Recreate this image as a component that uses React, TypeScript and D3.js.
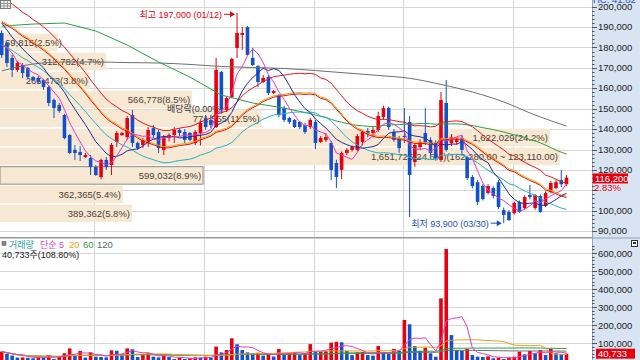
import React from "react";
import * as d3 from "d3";

// ---------- candle data (won) ----------
const OPEN = [187100,182200,174900,169000,171400,170000,165500,165100,164100,160600,
 154300,151800,146900,137100,129800,128800,126300,125800,121400,116500,
 124900,122400,133700,137100,136100,146900,133200,132200,133200,140500,
 138600,129800,135600,137100,139600,138600,138100,133200,138100,145400,
 144500,141000,168000,149400,155700,179800,186100,190000,174900,170900,
 163100,165500,157700,156700,150300,145400,144500,143500,142000,141000,
 143500,133700,134700,133200,123400,120000,128300,129800,129800,133700,
 139100,138100,139600,145900,150300,138600,135600,136600,143500,123900,
 131200,138100,134700,133200,124900,152800,133200,133700,135600,126300,
 116500,114000,112100,108700,111100,114000,100300,99400,98900,104300,
 101300,107700,101300,107200,102300,109200,111100,115000,113000];
const HIGH = [188500,182700,176300,173400,172400,170500,166000,166000,164600,161600,
 155000,152800,147500,137500,132200,131700,128300,127300,122400,125500,
 126300,133200,139100,138600,146400,149400,134000,135600,141000,142000,
 139600,137100,138000,141000,140500,140000,138600,139600,144000,146900,
 147000,174900,168500,156000,175000,197000,190000,190500,179800,171400,
 166500,166500,159200,157200,151300,146000,145000,144000,143000,145500,
 144500,136600,138100,134200,125000,129000,130700,132000,137600,139600,
 140500,141500,148500,151500,151000,140000,136600,150300,146400,133000,
 135000,150300,136000,134500,158200,164100,137600,136000,137000,127000,
 117500,115000,113000,113000,112000,115000,101500,100300,104500,105000,
 107500,112600,108200,108000,109500,114500,115000,119900,117500];
const LOW = [174900,170400,165500,168000,165000,164500,163500,162000,159200,151300,
 145400,148000,135000,127800,124900,124400,125800,117500,117000,115500,
 120000,117500,131200,136600,134700,131200,129800,130700,131200,135600,
 128300,127300,134000,133200,136600,133200,134000,132200,132000,139600,
 140500,140500,147900,148400,155000,174900,178800,175900,170900,160600,
 162600,156700,157200,145900,143500,142500,140500,140000,137600,140000,
 130200,133200,133700,115000,111100,115500,127300,129000,129000,132000,
 136000,136000,138600,144500,139600,133700,128300,133200,96900,121500,
 130000,132200,127000,124500,123900,129000,131700,132500,127300,115000,
 111000,102800,105000,108000,106000,100800,93900,95000,98000,98900,
 100800,105500,100500,99000,101800,108500,110500,111600,112000];
const CLOSE = [176300,172400,169000,172400,167500,165500,164100,163100,160600,152800,
 150300,148900,135600,128300,128300,127300,127300,121400,117500,124900,
 121400,132200,138100,138100,145400,133200,130700,134700,139600,137100,
 130700,136100,137100,139600,138100,134700,134700,138600,143000,141000,
 142000,169000,149400,155200,174400,187100,187100,176300,171400,163100,
 165100,157700,158700,146900,144500,143500,141000,141000,138600,144500,
 133200,135600,136100,120000,116500,128300,129800,131200,136600,138600,
 137600,139600,146400,150300,141000,134700,130700,136100,117500,132200,
 133700,133200,128300,125800,154300,129800,136100,135100,129800,116000,
 112100,104300,105700,112100,107200,101800,97900,95400,103800,99400,
 106700,106700,107700,99400,108700,113600,114000,113000,116200];
const VOLUME = [52000,40000,30000,19000,20000,18000,15000,22000,20000,33000,
 11000,25000,43000,70000,33000,56000,19000,48000,24000,22000,
 20000,59000,57000,37000,70000,65000,22000,33000,43000,24000,
 20000,30000,22000,11000,19000,11000,15000,20000,19000,24000,
 19000,80000,48000,61000,126000,93000,61000,48000,43000,46000,
 30000,35000,25000,67000,40000,43000,48000,33000,43000,94000,
 50000,52000,55000,102000,107000,104000,56000,33000,48000,50000,
 33000,30000,83000,43000,40000,67000,56000,228000,204000,83000,
 56000,74000,43000,24000,348000,622000,144000,61000,56000,67000,
 33000,24000,22000,26000,15000,19000,11000,19000,24000,52000,
 37000,56000,43000,61000,33000,67000,43000,37440,40733];

const MA5_HEAD = [181200, 179800, 177300, 172900];
const MA10_HEAD = [192000, 188600, 185100, 182200, 179300, 176800, 174400, 172400, 170000];
const MA20_HEAD = [193000, 191500, 190000, 188100, 186100, 184700, 182700, 181200, 179300, 177300,
 174900, 172400, 170000, 167000, 164100, 161200, 158200, 154800, 151800];
const SAMPLE_STEP = 6;
const MA60_HEAD = [190500, 191500, 192000, 188100, 181200, 172900, 165500, 156700, 152800, 150300];
const MA120_SAMPLED = [168500, 171900, 172900, 172900, 172600, 172400, 171700, 170700, 170200, 169700,
 168700, 167500, 166300, 164900, 161900, 158200, 153300, 146900, 141500];
const ENVELOPE_PCT = 0.06;

const MONTH_START_INDEX = [18, 39, 60, 77, 98];
const PRICE_TICKS = d3.range(90000, 200001, 10000);
const VOLUME_TICKS = [100000, 200000, 300000, 400000, 500000, 600000];

// volume profile (매물대), bottom band first
const BAND_LOW = 93900;
const BAND_STEP = 9310;
const BAND_VOLUMES = [389362, 362365, 599032, 1651725, 1622029, 771555, 566778, 265473, 312782, 169815];
const BAND_PCT = [5.8, 5.4, 8.9, 24.6, 24.2, 11.5, 8.5, 3.8, 4.7, 2.5];
const PROFILE_RANGE = "(162,280.00 ~ 123,110.00)";

const HIGH_DATE = "01/12";
const LOW_DATE = "03/30";
const DIVIDEND_INDEX = 37;
const DIVIDEND_LABEL = "배당락(0.00%)";
const CHANGE_PCT = "2.83%";
const VOLUME_RATIO = "108.80%";
const TOP_INFO = "HC: 41.02";

const RED = "#e8000e";
const BLUE = "#1450c8";
const FONT = "'Liberation Sans', Arial, 'Noto Sans CJK KR', sans-serif";

const fmt = d3.format(",");

export default function App() {
  const N = CLOSE.length;
  const PLOT_R = 592;
  const x = d3.scaleLinear().domain([0, N - 1]).range([1.7, 566.5]);
  const y = d3.scaleLinear().domain([90000, 200000]).range([231.1, 6.7]);
  const yv = d3.scaleLinear().domain([0, 600000]).range([361, 253]);
  const bw = d3.scaleLinear().domain([0, d3.max(BAND_VOLUMES) as number]).range([0, 560]);

  const sma = (arr: number[], n: number, i: number) => d3.mean(arr.slice(i - n + 1, i + 1)) as number;
  const ma5 = CLOSE.map((_, i) => (i < 4 ? MA5_HEAD[i] : sma(CLOSE, 5, i)));
  const ma10 = CLOSE.map((_, i) => (i < 9 ? MA10_HEAD[i] : sma(CLOSE, 10, i)));
  const ma20 = CLOSE.map((_, i) => (i < 19 ? MA20_HEAD[i] : sma(CLOSE, 20, i)));
  const envUp = ma20.map((v) => v * (1 + ENVELOPE_PCT));
  const envDn = ma20.map((v) => v * (1 - ENVELOPE_PCT));
  const ma60pts: [number, number][] = [
    ...MA60_HEAD.map((v, k) => [k * SAMPLE_STEP, v] as [number, number]),
    ...d3.range(59, N).map((i) => [i, sma(CLOSE, 60, i)] as [number, number]),
  ];
  const ma120pts: [number, number][] = MA120_SAMPLED.map((v, k) => [k * SAMPLE_STEP, v]);

  const idx = (arr: number[]) => arr.map((v, i) => [i, v] as [number, number]);
  const line = d3.line<[number, number]>().x((d) => x(d[0])).y((d) => y(d[1]));
  const smooth = d3.line<[number, number]>().x((d) => x(d[0])).y((d) => y(d[1])).curve(d3.curveMonotoneX);
  const vline = d3.line<[number, number]>().x((d) => x(d[0])).y((d) => yv(d[1]));

  const volMA = (n: number) =>
    VOLUME.map((_, i) => [i, d3.mean(VOLUME.slice(Math.max(0, i - n + 1), i + 1)) as number] as [number, number]);

  const maxBand = d3.maxIndex(BAND_VOLUMES);
  const last = CLOSE[N - 1];
  const curBand = Math.floor((last - BAND_LOW) / BAND_STEP);
  const hiI = d3.maxIndex(HIGH);
  const loI = d3.minIndex(LOW);
  const yLast = y(last);
  const lastVol = VOLUME[N - 1];

  const minorPrice = d3.range(90000, 200001, 2000);
  const minorVol = d3.range(0, 640001, 20000);

  return (
    <svg width={640} height={360} style={{ position: "absolute", left: 0, top: 0, background: "#fff" }}
      fontFamily={FONT} fontSize={9.5}>
      <defs>
        <clipPath id="pc"><rect x={0} y={0} width={PLOT_R} height={237} /></clipPath>
        <clipPath id="vc"><rect x={0} y={239} width={PLOT_R} height={121} /></clipPath>
        <clipPath id="axc"><rect x={PLOT_R} y={4} width={640 - PLOT_R} height={356} /></clipPath>
      </defs>

      {/* price panel */}
      <g clipPath="url(#pc)">
        {PRICE_TICKS.map((v) => (
          <line key={v} x1={0} x2={PLOT_R} y1={Math.round(y(v)) + 0.5} y2={Math.round(y(v)) + 0.5} stroke="#d6d6d6" />
        ))}
        {MONTH_START_INDEX.map((i) => (
          <line key={i} x1={Math.round(x(i) - 1.5) + 0.5} x2={Math.round(x(i) - 1.5) + 0.5} y1={0} y2={237} stroke="#d6d6d6" />
        ))}
        {BAND_VOLUMES.map((v, k) => {
          const lo = BAND_LOW + k * BAND_STEP;
          const y0 = y(lo + BAND_STEP);
          const y1 = y(lo);
          return (
            <rect key={k} x={0} y={y0 + 0.5} width={bw(v)} height={y1 - y0 - 1.5} fill="#f7e8d4"
              stroke={k === curBand ? "#8a8a8a" : "none"} strokeWidth={1} />
          );
        })}
        {BAND_VOLUMES.map((v, k) => {
          const lo = BAND_LOW + k * BAND_STEP;
          const yc = (y(lo + BAND_STEP) + y(lo)) / 2;
          let label = `${fmt(v)}(${BAND_PCT[k].toFixed(1)}%)`;
          if (k === maxBand) label += PROFILE_RANGE;
          return (
            <text key={k} x={Math.max(bw(v) - 2, 62)} y={yc + 3.5} textAnchor="end" fill="#4d4033">{label}</text>
          );
        })}
        <text x={x(DIVIDEND_INDEX)} y={y(HIGH[DIVIDEND_INDEX]) - 18} textAnchor="middle" fill="#333" fontSize={9}>{DIVIDEND_LABEL}</text>

        {CLOSE.map((c, i) => {
          const o = OPEN[i];
          const col = c >= o ? RED : BLUE;
          const cx = x(i);
          const top = y(Math.max(o, c));
          const bot = y(Math.min(o, c));
          return (
            <g key={i}>
              <line x1={cx} x2={cx} y1={y(HIGH[i])} y2={y(LOW[i])} stroke={col} strokeWidth={1} />
              <rect x={cx - 1.8} y={top} width={3.6} height={Math.max(1, bot - top)} fill={col} />
            </g>
          );
        })}

        <path d={smooth(ma120pts) || ""} fill="none" stroke="#6e6e6e" strokeWidth={1} />
        <path d={line(ma60pts) || ""} fill="none" stroke="#2aa043" strokeWidth={1} />
        <path d={line(idx(envDn)) || ""} fill="none" stroke="#22b3c4" strokeWidth={1} />
        <path d={line(idx(envUp)) || ""} fill="none" stroke="#e81818" strokeWidth={1} />
        <path d={line(idx(ma20)) || ""} fill="none" stroke="#e01010" strokeWidth={1} transform="translate(0,1.3)" />
        <path d={line(idx(ma20)) || ""} fill="none" stroke="#f0a010" strokeWidth={1} />
        <path d={line(idx(ma10)) || ""} fill="none" stroke="#1c2e9c" strokeWidth={1} />
        <path d={line(idx(ma5)) || ""} fill="none" stroke="#e23cc8" strokeWidth={1} />

        {/* high / low annotations */}
        {(() => {
          const hx = x(hiI), hy = y(HIGH[hiI]) + 1.5;
          const lx = x(loI), ly = y(LOW[loI]);
          return (
            <g fontSize={9}>
              <text x={hx - 15} y={hy + 3.5} textAnchor="end" fill={RED}>{`최고 ${fmt(HIGH[hiI])} (${HIGH_DATE})`}</text>
              <line x1={hx - 13} x2={hx - 5} y1={hy} y2={hy} stroke={RED} />
              <path d={`M${hx - 2},${hy} l-5,-3 v6 z`} fill={RED} />
              <text x={lx - 15} y={ly + 3.5} textAnchor="end" fill={BLUE}>{`최저 ${fmt(LOW[loI])} (${LOW_DATE})`}</text>
              <line x1={lx - 13} x2={lx - 5} y1={ly} y2={ly} stroke={BLUE} />
              <path d={`M${lx - 2},${ly} l-5,-3 v6 z`} fill={BLUE} />
            </g>
          );
        })()}
      </g>

      {/* separator */}
      <rect x={0} y={237} width={PLOT_R} height={1.5} fill="#9a9a9a" />

      {/* volume panel */}
      <g clipPath="url(#vc)">
        {VOLUME_TICKS.map((v) => (
          <line key={v} x1={0} x2={PLOT_R} y1={Math.round(yv(v)) + 0.5} y2={Math.round(yv(v)) + 0.5} stroke="#d6d6d6" />
        ))}
        {MONTH_START_INDEX.map((i) => (
          <line key={i} x1={Math.round(x(i) - 1.5) + 0.5} x2={Math.round(x(i) - 1.5) + 0.5} y1={239} y2={360} stroke="#d6d6d6" />
        ))}
        {VOLUME.map((v, i) => {
          const up = i === 0 || v >= VOLUME[i - 1];
          return <rect key={i} x={x(i) - 1.8} y={yv(v)} width={3.6} height={yv(0) - yv(v)} fill={up ? RED : BLUE} />;
        })}
        <path d={vline(volMA(120)) || ""} fill="none" stroke="#6e6e6e" strokeWidth={1} />
        <path d={vline(volMA(60)) || ""} fill="none" stroke="#2aa043" strokeWidth={1} />
        <path d={vline(volMA(20)) || ""} fill="none" stroke="#f0a010" strokeWidth={1} />
        <path d={vline(volMA(5)) || ""} fill="none" stroke="#e23cc8" strokeWidth={1} />
        <rect x={2} y={241.5} width={4} height={4} fill="#888" stroke="#555" strokeWidth={0.5} />
        <text x={9} y={247.5} fill="#20a0a0" fontSize={9}>거래량</text>
        <text x={40} y={247.5} fill="#e23cc8" fontSize={9}>단순 5</text>
        <text x={69} y={247.5} fill="#f0a010">20</text>
        <text x={83} y={247.5} fill="#2aa043">60</text>
        <text x={97} y={247.5} fill="#666">120</text>
        <text x={2} y={257.5} fill="#222" fontSize={9}>{`${fmt(lastVol)}주(${VOLUME_RATIO})`}</text>
      </g>

      {/* top-left icon */}
      <rect x={0.5} y={0.5} width={10} height={8} fill="#eee" stroke="#777" />
      <line x1={0.5} x2={10.5} y1={3.5} y2={3.5} stroke="#999" />
      <line x1={0.5} x2={10.5} y1={6} y2={6} stroke="#999" />
      <line x1={4} x2={4} y1={0.5} y2={8.5} stroke="#999" />
      <line x1={7.5} x2={7.5} y1={0.5} y2={8.5} stroke="#999" />

      {/* axis panel */}
      <rect x={PLOT_R} y={0} width={640 - PLOT_R} height={360} fill="#d8e4f2" />
      <line x1={PLOT_R + 0.5} x2={PLOT_R + 0.5} y1={0} y2={360} stroke="#98a4b4" />
      <line x1={PLOT_R} x2={640} y1={238} y2={238} stroke="#98a4b4" />
      {minorPrice.map((v) => (
        <line key={v} x1={PLOT_R} x2={PLOT_R + (v % 10000 === 0 ? 5 : 2.5)} y1={Math.round(y(v)) + 0.5} y2={Math.round(y(v)) + 0.5} stroke="#555" />
      ))}
      <g clipPath="url(#axc)">
        {PRICE_TICKS.filter((v) => {
          const d = y(v) - yLast;
          return d < -4 || d > 16;
        }).map((v) => (
          <text key={v} x={598} y={y(v) + 3} fill="#222">{fmt(v)}</text>
        ))}
      </g>
      {minorVol.filter((v) => yv(v) > 241 && yv(v) < 360).map((v) => (
        <line key={v} x1={PLOT_R} x2={PLOT_R + (v % 100000 === 0 ? 5 : 2.5)} y1={Math.round(yv(v)) + 0.5} y2={Math.round(yv(v)) + 0.5} stroke="#555" />
      ))}
      {VOLUME_TICKS.map((v) => (
        <text key={v} x={598} y={yv(v) + 3.5} fill="#222">{fmt(v)}</text>
      ))}
      <text x={593} y={2.5} fill="#2050c0">{TOP_INFO}</text>

      <rect x={593} y={yLast - 4.2} width={35} height={10} fill={RED} />
      <text x={595} y={yLast + 4} fill="#fff">{fmt(last)}</text>
      <text x={594} y={yLast + 13.5} fill={RED}>{CHANGE_PCT}</text>

      <rect x={596} y={yv(lastVol) - 5} width={39} height={10} fill={RED} />
      <text x={598} y={yv(lastVol) + 3.5} fill="#fff">{fmt(lastVol)}</text>
      <text x={596} y={365.5} fill={RED}>{VOLUME_RATIO}</text>

      <rect x={631.5} y={240.5} width={6} height={6} fill="#fff" stroke="#333" />
      <rect x={633} y={242} width={3} height={2} fill="#333" />
    </svg>
  );
}
